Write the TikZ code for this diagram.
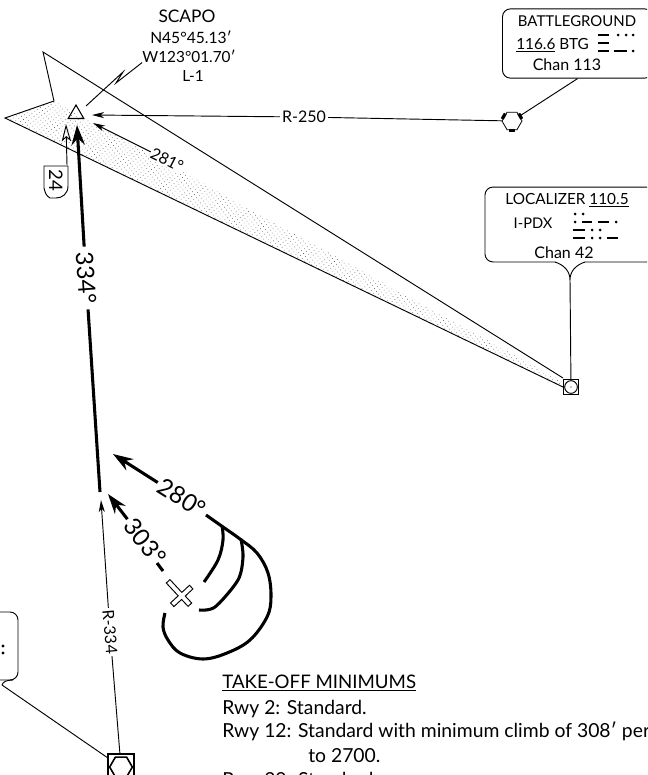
\documentclass[tikz,border=0pt]{standalone}
\usepackage{fontspec}
\setmainfont{Lato}
\usetikzlibrary{arrows.meta,shapes.geometric,patterns.meta}
\newcommand{\fsz}[1]{\fontsize{#1}{#1}\selectfont}
\tikzset{
    thinline/.style={line width=0.7pt},
    thinarrow/.style={line width=0.7pt,-{Stealth[length=9pt,width=4.5pt,inset=2.5pt]}},
    boldline/.style={line width=2.3pt},
    boldarrow/.style={line width=2.3pt,-{Stealth[length=15pt,width=10pt,inset=5pt]}},
    infobox/.style={draw,line width=0.7pt,rounded corners=6pt,fill=white},
    morsebar/.style={line width=2pt},
    lbl/.style={inner sep=1.5pt,font=\fsz{12}},
    brieftext/.style={anchor=base west,inner sep=0pt,font=\fsz{14.5}}
}
\begin{document}
\begin{tikzpicture}[x=0.75pt,y=-0.75pt]
\useasboundingbox (0,0) rectangle (647,775);
\clip (0,0) rectangle (647,775);
% shaded course sector
\fill[pattern={Dots[distance=2.6pt,radius=0.3pt,angle=35]},pattern color=black!75] (54,101) -- (5,118) -- (563,387) -- (563,382) -- cycle;
\draw[thinline] (563,378) -- (43,52) -- (54,101) -- (5,118) -- (563,387);
% fixes and stations
\node (scapo) [draw,line width=0.8pt,regular polygon,regular polygon sides=3,minimum size=13.5pt,inner sep=0pt] at (76,114) {};
\node (pdx) [draw,line width=0.8pt,minimum size=11pt,inner sep=0pt] at (571,387) {};
\node (pdxcirc) [draw,circle,thinline,fill=white,minimum size=9.5pt,inner sep=0pt] at (571,387) {};
\fill (pdxcirc.center) circle (0.7);
\node (btg) [draw,line width=0.6pt,fill=white,regular polygon,regular polygon sides=6,minimum size=15pt,inner sep=0pt] at (512,121) {};
\foreach \a in {60,180,300} {
    \draw[line width=2.4pt] ([shift={(\a+12:10)}]btg.center) -- ([shift={(\a+48:10)}]btg.center);
}
\node (btm) [draw,line width=1.6pt,minimum size=19pt,inner sep=0pt] at (121,767) {};
\node (btmhex) [draw,line width=1.2pt,regular polygon,regular polygon sides=6,minimum size=17pt,inner sep=0pt] at (121,767) {};
% SCAPO text
\node (name) [inner sep=0pt,font=\fsz{13}] at (187,16) {SCAPO};
\node (lat) [inner sep=0pt,font=\fsz{11.7}] at (191,37) {N45°45.13′};
\node (lon) [inner sep=0pt,font=\fsz{11.5}] at (189,56) {W123°01.70′};
\node (lfreq) [inner sep=0pt,font=\fsz{11.5}] at (193,76) {L-1};
\coordinate (leadend) at (86,106);
\draw[thinline] (lon.south west) -- (116,83) -- (123,72) -- (leadend);
% R-250
\node (r250) [lbl] at (304,117) {R-250};
\coordinate (scapoe) at (92,115);
\draw[thinline] (btg) -- (r250);
\draw[thinarrow] (r250) -- (scapoe);
% 281 inbound
\node (c281) [lbl,rotate=-27,fill=white,inner sep=0.5pt] at (167,160) {281°};
\coordinate (scapos) at (93,123);
\draw[thinarrow] (c281) -- (scapos);
% 24 tag
\coordinate (tagtop) at (67,165);
\coordinate (tagtip) at (66,124);
\draw[line width=0.7pt,-{Stealth[open,length=13pt,width=7pt,inset=3pt]}] (tagtop) -- (tagtip);
\draw[thinline,fill=white] (44,166) -- (68,166) -- (68,186) .. controls (68,194) and (62,198) .. (56,198) -- (50,198) .. controls (46,196) and (45,192) .. (44,188) -- cycle;
\node (alt24) [inner sep=0pt,rotate=-90,font=\fsz{14}] at (56,180) {24};
% BATTLEGROUND box
\node (btgbox) [infobox,minimum width=112.5pt,minimum height=52pt] at (577.5,43.5) {};
\draw[thinline] (btgbox.south) -- (btg);
\node (btgname) [inner sep=0pt,font=\fsz{11.2}] at (577,21) {BATTLEGROUND};
\node (btgfreq) [anchor=base west,inner sep=0pt,font=\fsz{11.5}] at (516,49) {\underline{116.6} BTG};
\node (btgchan) [inner sep=0pt,font=\fsz{12}] at (567,65) {Chan 113};
\foreach \a/\b/\y in {598/609/35,598/609/43,598/609/51,614/627/51} {
    \draw[morsebar] (\a,\y) -- (\b,\y);
}
\foreach \x/\y in {618/35,626/35,633/35,633/51} {
    \fill (\x,\y) circle (1.5);
}
% LOCALIZER box
\node (locbox) [infobox,minimum width=127.5pt,minimum height=56.2pt] at (570,224.5) {};
\coordinate (locneck) at (570,280);
\fill[white] (555,261) -- (585,261) -- (570,280) -- cycle;
\draw[thinline] (555,262) .. controls (564,265) and (570,271) .. (locneck) .. controls (570,271) and (576,265) .. (585,262);
\draw[thinline] (locneck) -- (pdx);
\node (locname) [inner sep=0pt,font=\fsz{11.5}] at (567,200) {LOCALIZER \underline{110.5}};
\node (locid) [inner sep=0pt,font=\fsz{11}] at (533,223) {I-PDX};
\node (locchan) [inner sep=0pt,font=\fsz{12}] at (564,253) {Chan 42};
\foreach \a/\b/\y in {582/592/222,598/609/222,573/585/230,573/585/238,607/618/238} {
    \draw[morsebar] (\a,\y) -- (\b,\y);
}
\foreach \x/\y in {575/214,583/214,575/222,616/222,592/230,600/230,592/238,600/238} {
    \fill (\x,\y) circle (1.5);
}
% left box
\node (btmbox) [infobox,minimum width=60pt,minimum height=51pt] at (-22,646) {};
\coordinate (btmtail) at (2,685);
\draw[thinline] (13,680) .. controls (6,680) and (3,682) .. (btmtail);
\draw[thinline] (btmtail) -- (btm);
\foreach \x/\y in {3/646,3/653} {
    \fill (\x,\y) circle (1.6);
}
% final course
\node (c334) [inner sep=4pt,rotate=-86,font=\fsz{18}] at (86,278) {334°};
\coordinate (scapob) at (77,125);
\coordinate (legend) at (100,492);
\draw[boldline] (legend) -- (c334);
\draw[boldarrow] (c334) -- (scapob);
% R-334
\node (r334) [lbl,rotate=-85] at (110,632) {R-334};
\coordinate (legin) at (101,500);
\draw[thinline] (btm) -- (r334);
\draw[thinarrow] (r334) -- (legin);
% departures
\node (c280) [inner sep=2pt,rotate=-32,font=\fsz{18}] at (182,498) {280°};
\coordinate (tip280) at (113,454);
\draw[boldarrow] (c280) -- (tip280);
\node (c303) [inner sep=2pt,rotate=-52,font=\fsz{18}] at (145,542) {303°};
\coordinate (tip303) at (108,494);
\draw[boldarrow] (c303) -- (tip303);
\coordinate (stubend) at (163,571);
\draw[boldline] (157,563) -- (stubend);
% turn tracks
\draw[boldline] plot[smooth,tension=0.6] coordinates {(206,515) (223,527) (240,539) (257,553) (268,573) (271,597) (267,617) (250,640) (227,653) (203,659) (180,653) (168,640) (163,627) (165,613)};
\draw[boldline] plot[smooth,tension=0.6] coordinates {(222,526) (223,540) (218,560) (204,582)};
\draw[boldline] plot[smooth,tension=0.5] coordinates {(241,539) (243,557) (238,580) (215,607) (199,610)};
% airport
\begin{scope}[shift={(179,593)},x={(0.51pt,-0.5475pt)},y={(0.5475pt,0.51pt)}]
\draw[thinline,fill=white] (-16,-2.5) -- (1.5,-2.5) -- (1.5,-13) -- (6.5,-13) -- (6.5,-2.5) -- (16,-2.5) -- (16,2.5) -- (6.5,2.5) -- (6.5,13) -- (1.5,13) -- (1.5,2.5) -- (-16,2.5) -- cycle;
\end{scope}
% minimums text
\node (tomhead) [brieftext,font=\fsz{14}] at (222,688) {\underline{TAKE-OFF MINIMUMS}};
\node (tomtwo) [brieftext] at (222,714) {Rwy 2: Standard.};
\node (tomtwelve) [brieftext] at (222,737) {Rwy 12: Standard with minimum climb of 308′ per};
\node (tomto) [brieftext] at (308,762) {to 2700.};
\node (tomtwenty) [brieftext] at (222,786) {Rwy 20: Standard.};
\end{tikzpicture}
\end{document}
